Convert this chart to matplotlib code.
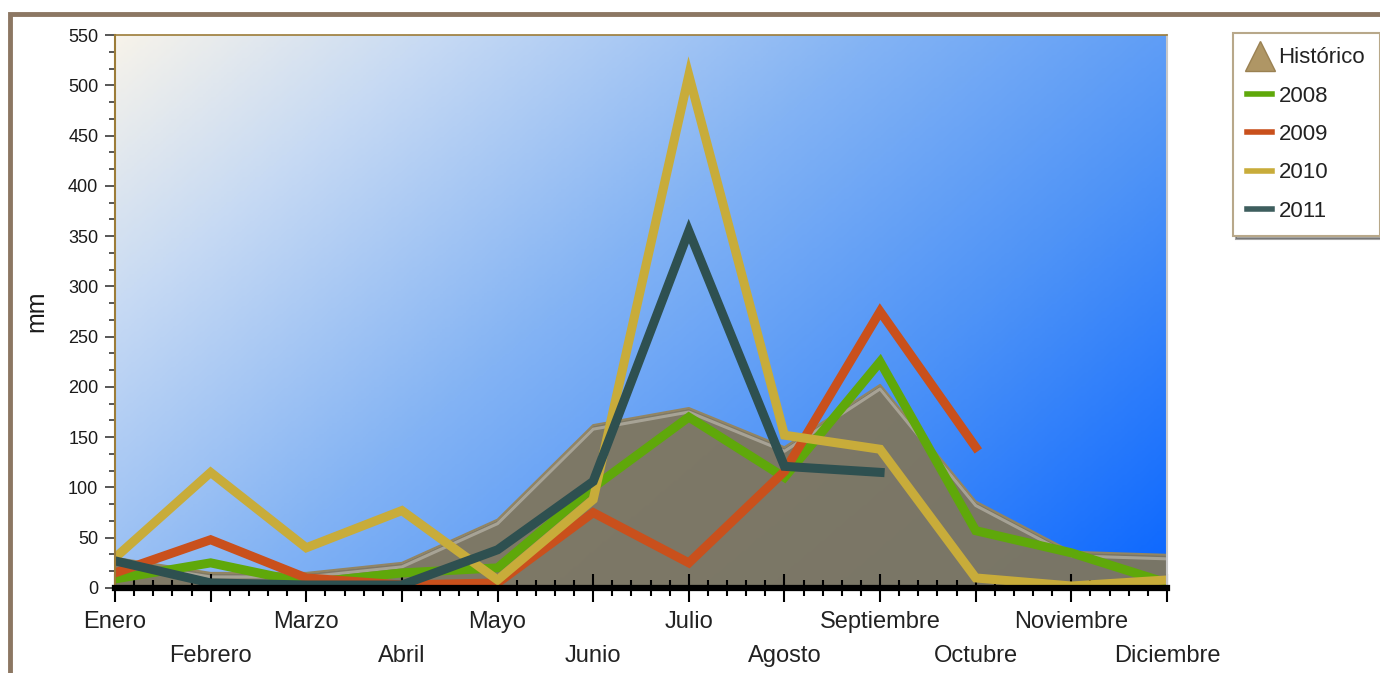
import matplotlib.pyplot as plt
import numpy as np
from matplotlib.colors import LinearSegmentedColormap
from matplotlib.lines import Line2D
from matplotlib.patches import Rectangle
from matplotlib.ticker import MultipleLocator, AutoMinorLocator

plt.rcParams['font.family'] = ['Liberation Sans', 'DejaVu Sans']

months = ['Enero', 'Febrero', 'Marzo', 'Abril', 'Mayo', 'Junio', 'Julio',
          'Agosto', 'Septiembre', 'Octubre', 'Noviembre', 'Diciembre']

historico = [30, 15, 15, 25, 68, 162, 179, 140, 202, 86, 36, 33]
y2008 = [9, 25, 5, 15, 20, 100, 170, 110, 225, 57, 35, 5]
y2009 = [15, 48, 10, 3, 5, 75, 25, 116, 275, 140]
y2010 = [30, 115, 40, 77, 8, 88, 510, 152, 138, 10, 2, 8]
y2011 = [27, 5, 3, 3, 38, 106, 355, 121, 115]

fig = plt.figure(figsize=(13.8, 6.73), dpi=100)
ax = fig.add_axes([115 / 1380, 1 - 588 / 673, (1167 - 115) / 1380, (588 - 35) / 673])

# outer brown frame
fig.patches.append(Rectangle((10 / 1380, -0.2), 1.2, 1.2 - 14 / 673,
                             transform=fig.transFigure, fill=False,
                             edgecolor='#8C7763', linewidth=3.5, zorder=0))

# gradient background, light in the top-left corner, deep blue bottom-right
cmap = LinearSegmentedColormap.from_list(
    'bg', [(0.0, '#F7F3EA'), (0.18, '#C9DBF3'), (0.45, '#83B3F4'),
           (0.7, '#4E93F7'), (1.0, '#0A66FF')])
gx, gy = np.meshgrid(np.linspace(0, 1, 400), np.linspace(0, 1, 200))
grad = gx * 0.62 + gy * 0.38
ax.imshow(grad, cmap=cmap, extent=[0, 11, 0, 550], origin='upper', aspect='auto',
          zorder=0, interpolation='bilinear')

x = np.arange(len(months))

# historical area with a bevelled top
ax.fill_between(x, 0, historico, color='#7F765E', alpha=0.95, zorder=1, linewidth=0)
ax.plot(x, np.array(historico) - 4, color='#B2AEA2', lw=2.2, alpha=0.8, zorder=1.1)
ax.plot(x, historico, color='#938562', lw=1.5, zorder=1.2)

lw = 6.5
ax.plot(x[:len(y2008)], y2008, color='#5FA80A', lw=lw, solid_joinstyle='miter', zorder=2)
ax.plot(x[:len(y2009)], y2009, color='#C9501C', lw=lw, solid_joinstyle='miter', zorder=2)
ax.plot(x[:len(y2010)], y2010, color='#C8AC3A', lw=lw, solid_joinstyle='miter', zorder=2)
ax.plot(x[:len(y2011)], y2011, color='#2E5050', lw=lw, solid_joinstyle='miter', zorder=2)

ax.set_xlim(0, 11)
ax.set_ylim(0, 550)

# y axis
ax.yaxis.set_major_locator(MultipleLocator(50))
ax.yaxis.set_minor_locator(AutoMinorLocator(3))
ax.tick_params(axis='y', which='major', direction='out', length=7, width=1.2,
               color='#3A3A3A', labelsize=13, pad=5, labelcolor='#1A1A1A')
ax.tick_params(axis='y', which='minor', direction='out', length=4, width=1.2,
               color='#3A3A3A')
ax.set_ylabel('mm', fontsize=18, labelpad=14, color='#1A1A1A')

# x axis, labels staggered in two rows
ax.set_xticks(x)
ax.set_xticklabels([])
ax.xaxis.set_minor_locator(AutoMinorLocator(5))
ax.tick_params(axis='x', which='major', direction='inout', length=20, width=1.5, color='black')
ax.tick_params(axis='x', which='minor', direction='inout', length=12, width=1.5, color='black')
for i, m in enumerate(months):
    off = -34 if i % 2 == 0 else -68
    ax.annotate(m, xy=(i, 0), xycoords=('data', 'axes fraction'),
                xytext=(0, off), textcoords='offset pixels',
                ha='center', va='center', fontsize=17, color='#222222',
                annotation_clip=False)

for s in ['left', 'top']:
    ax.spines[s].set_color('#9C7C38')
ax.spines['left'].set_linewidth(1.5)
ax.spines['top'].set_linewidth(1.2)
ax.spines['right'].set_color('#C8C8C8')
ax.spines['right'].set_linewidth(1.5)
ax.spines['bottom'].set_color('black')
ax.spines['bottom'].set_linewidth(4.5)

handles = [
    Line2D([], [], marker='^', markersize=21, linestyle='none',
           color='#AF9665', markeredgecolor='#9A8152'),
    Line2D([], [], color='#5FA80A', lw=4),
    Line2D([], [], color='#C9501C', lw=4),
    Line2D([], [], color='#C8AC3A', lw=4),
    Line2D([], [], color='#3E5E5E', lw=4),
]
labels = ['Histórico', '2008', '2009', '2010', '2011']
leg = fig.legend(handles, labels, loc='upper left',
                 bbox_to_anchor=(1233 / 1380, 1 - 33 / 673),
                 fontsize=16, frameon=True, fancybox=False, shadow=True,
                 handlelength=1.1, handletextpad=0.3, labelspacing=0.78,
                 borderpad=0.65, borderaxespad=0)
leg.get_frame().set_edgecolor('#B8A88A')
leg.get_frame().set_linewidth(1.5)
for t in leg.get_texts():
    t.set_color('#222222')

fig.savefig('out.png', dpi=100)
